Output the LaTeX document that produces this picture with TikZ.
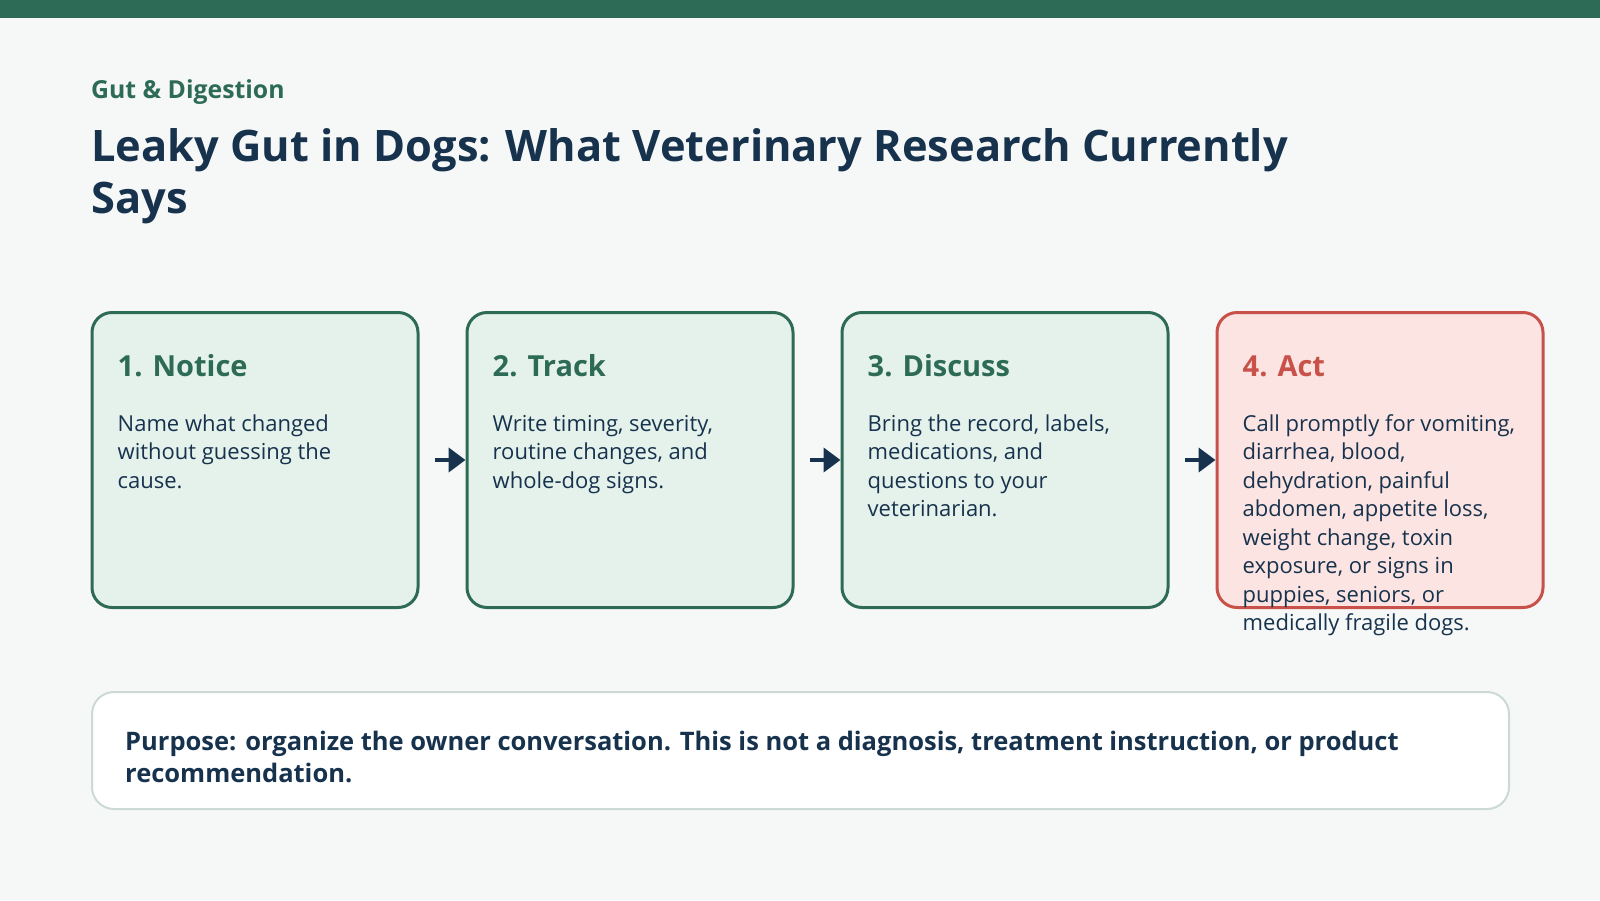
\documentclass[tikz,border=0pt]{standalone}
\usepackage{fontspec}
\setmainfont{Open Sans}
\usetikzlibrary{arrows.meta,positioning}
\definecolor{pine}{HTML}{2E6B57}
\definecolor{navy}{HTML}{17324D}
\definecolor{mint}{HTML}{E5F2EB}
\definecolor{brick}{HTML}{C8524A}
\definecolor{blush}{HTML}{FBE4E1}
\definecolor{paper}{HTML}{F6F8F7}
\definecolor{mist}{HTML}{CCD9D4}
\tikzset{
  card/.style     = {draw=pine, line width=3pt, fill=mint, rounded corners=20pt,
                     minimum width=326pt, minimum height=295pt, inner sep=0pt},
  alert/.style    = {card, draw=brick, fill=blush},
  cardhead/.style = {anchor=base west, inner sep=0pt, text=pine,
                     font=\bfseries\fontsize{29}{34}\selectfont},
  cardbody/.style = {anchor=base west, inner sep=0pt, align=left, text=navy,
                     font=\fontsize{22}{28.5}\selectfont},
  flow/.style     = {-{Triangle[length=17pt,width=24pt]}, line width=4.5pt, navy},
}

\begin{document}
\begin{tikzpicture}[x=1pt,y=1pt]
  \useasboundingbox (0,0) rectangle (1600,-900);
  \fill[paper] (0,0) rectangle (1600,-900);
  \fill[pine] (0,0) rectangle (1600,-18);

  % heading (base of a multi-line node = its last line)
  \node[anchor=base west, inner sep=0pt, text=pine, font=\bfseries\fontsize{24.8}{29}\selectfont]
    (kicker) at (91,-98) {Gut \& Digestion};
  \node[anchor=base west, inner sep=0pt, align=left, text=navy, font=\bfseries\fontsize{43.4}{52}\selectfont]
    (title) at (91,-213) {Leaky Gut in Dogs: What Veterinary Research Currently\\Says};

  % the four steps
  \node[card] (notice) at (255,-460) {};
  \node[card, right=46pt of notice] (track) {};
  \node[card, right=46pt of track] (discuss) {};
  \node[alert, right=46pt of discuss] (act) {};

  \node[cardhead] (noticeT) at ([xshift=27pt,yshift=-65pt]notice.north west) {1. Notice};
  \node[cardbody] (noticeB) at ([xshift=27pt,yshift=-177pt]notice.north west)
    {Name what changed\\without guessing the\\cause.};
  \node[cardhead] (trackT) at ([xshift=27pt,yshift=-65pt]track.north west) {2. Track};
  \node[cardbody] (trackB) at ([xshift=27pt,yshift=-177pt]track.north west)
    {Write timing, severity,\\routine changes, and\\whole-dog signs.};
  \node[cardhead] (discussT) at ([xshift=27pt,yshift=-65pt]discuss.north west) {3. Discuss};
  \node[cardbody] (discussB) at ([xshift=27pt,yshift=-205.5pt]discuss.north west)
    {Bring the record, labels,\\medications, and\\questions to your\\veterinarian.};
  \node[cardhead, text=brick] (actT) at ([xshift=27pt,yshift=-65pt]act.north west) {4. Act};
  \node[cardbody] (actB) at ([xshift=27pt,yshift=-319.5pt]act.north west)
    {Call promptly for vomiting,\\diarrhea, blood,\\dehydration, painful\\abdomen, appetite loss,\\weight change, toxin\\exposure, or signs in\\puppies, seniors, or\\medically fragile dogs.};

  \draw[flow] ([xshift=15pt]notice.east) -- (track.west);
  \draw[flow] ([xshift=15pt]track.east) -- (discuss.west);
  \draw[flow] ([xshift=15pt]discuss.east) -- (act.west);

  % note
  \node[draw=mist, line width=2pt, fill=white, rounded corners=22pt, minimum width=1417pt,
    minimum height=117pt, anchor=north west] (note) at (91,-691) {};
  \node[anchor=base west, inner sep=0pt, align=left, text=navy, font=\bfseries\fontsize{25.5}{32.5}\selectfont]
    (noteT) at ([xshift=34pt,yshift=-91.5pt]note.north west)
    {Purpose: organize the owner conversation. This is not a diagnosis, treatment instruction, or product\\recommendation.};
\end{tikzpicture}
\end{document}
